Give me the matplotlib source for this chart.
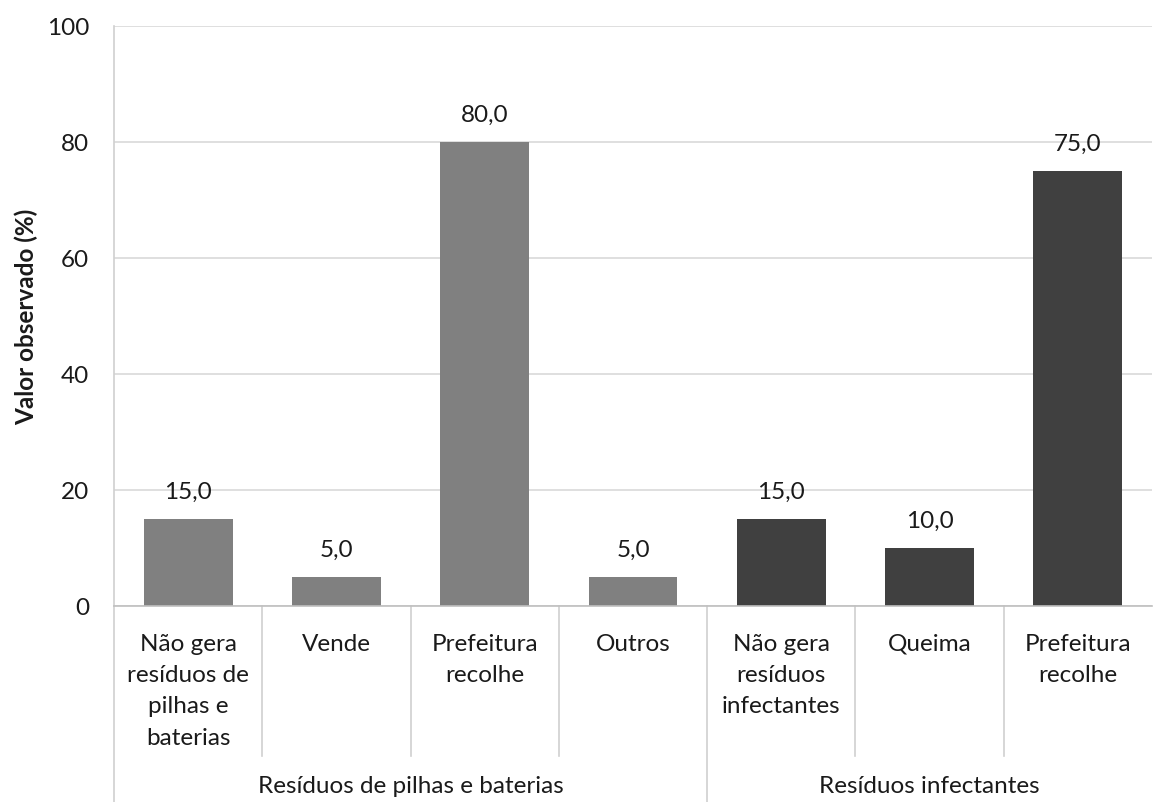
import matplotlib
matplotlib.use('Agg')
import matplotlib.pyplot as plt
import matplotlib.transforms as mtransforms

plt.rcParams['font.family'] = ['Lato', 'DejaVu Sans']

# data
categorias = ['Não gera\nresíduos de\npilhas e\nbaterias', 'Vende', 'Prefeitura\nrecolhe', 'Outros',
              'Não gera\nresíduos\ninfectantes', 'Queima', 'Prefeitura\nrecolhe']
valores = [15.0, 5.0, 80.0, 5.0, 15.0, 10.0, 75.0]
grupos = ['Resíduos de pilhas e baterias', 'Resíduos infectantes']
tamanho_grupo = [4, 3]
cores_grupo = ['#808080', '#404040']

FS = 17.5

fig = plt.figure(figsize=(11.68, 8.03), dpi=100)
ax = fig.add_axes([0.0976, 0.2441, 0.8887, 0.7223])

cores = []
for g, n in enumerate(tamanho_grupo):
    cores += [cores_grupo[g]] * n

x = list(range(len(valores)))
ax.bar(x, valores, width=0.6, color=cores, zorder=2)

for xi, v in zip(x, valores):
    ax.annotate(f'{v:.1f}'.replace('.', ','), (xi, v), xytext=(0, 12),
                textcoords='offset points', ha='center', va='bottom', fontsize=FS, color='#1a1a1a')

ax.set_xlim(-0.5, len(valores) - 0.5)
ax.set_ylim(0, 100)
ax.set_yticks(range(0, 101, 20))
ax.tick_params(axis='y', length=0, labelsize=FS, pad=18, colors='#1a1a1a')
ax.set_xticks([])
ax.grid(axis='y', color='#d9d9d9', linewidth=1.2, zorder=0)
for s in ['top', 'right']:
    ax.spines[s].set_visible(False)
ax.spines['left'].set_color('#d0d0d0')
ax.spines['bottom'].set_color('#bfbfbf')
ax.spines['left'].set_linewidth(1.2)
ax.spines['bottom'].set_linewidth(1.2)
ax.set_ylabel('Valor observado (%)', fontsize=FS, fontweight='bold', color='#1a1a1a')
ax.yaxis.set_label_coords(-0.073, 0.5)

# multi-level category axis
trans = mtransforms.blended_transform_factory(ax.transData, fig.transFigure)
y_axis = 0.2441
y_curto = 1 - 757 / 803
y_longo = 0.0

for xi, lab in zip(x, categorias):
    ax.text(xi, 1 - 634 / 803, lab, transform=trans, ha='center', va='top',
            fontsize=FS, linespacing=1.6, color='#1a1a1a')

limites = [-0.5]
for n in tamanho_grupo:
    limites.append(limites[-1] + n)

for b in range(len(valores)):
    xb = b - 0.5
    y_fim = y_longo if xb in limites else y_curto
    ax.plot([xb, xb], [y_axis, y_fim], transform=trans, color='#d0d0d0',
            linewidth=1.2, clip_on=False)

for g, nome in enumerate(grupos):
    centro = (limites[g] + limites[g + 1]) / 2
    ax.text(centro, 1 - 787 / 803, nome, transform=trans, ha='center', va='center',
            fontsize=FS, color='#1a1a1a')

fig.savefig('out.png', dpi=100)
plt.close(fig)
